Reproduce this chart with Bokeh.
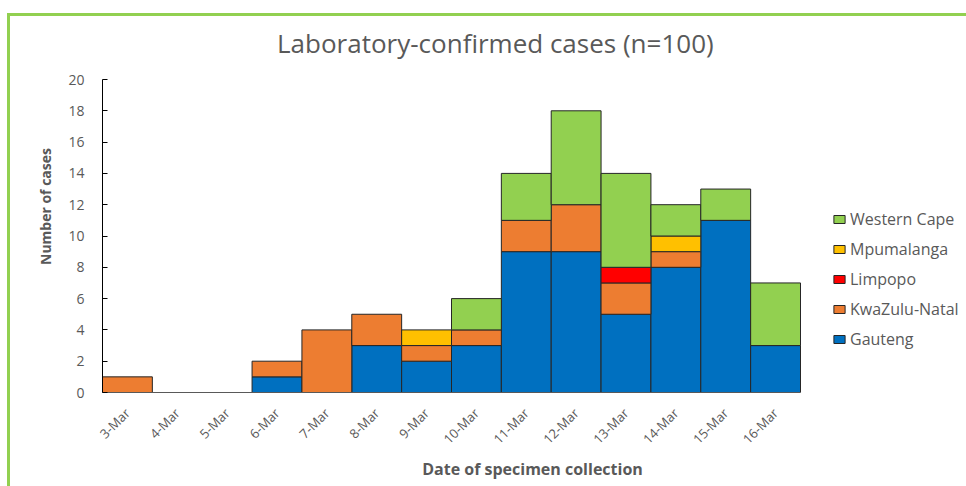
from math import pi
from bokeh.plotting import figure
from bokeh.models import Range1d, FixedTicker, Legend, LegendItem, Label
from bokeh.embed import file_html
from bokeh.resources import INLINE

dates = ["3-Mar", "4-Mar", "5-Mar", "6-Mar", "7-Mar", "8-Mar", "9-Mar",
         "10-Mar", "11-Mar", "12-Mar", "13-Mar", "14-Mar", "15-Mar", "16-Mar"]
gauteng = [0, 0, 0, 1, 0, 3, 2, 3, 9, 9, 5, 8, 11, 3]
kwazulu_natal = [1, 0, 0, 1, 4, 2, 1, 1, 2, 3, 2, 1, 0, 0]
limpopo = [0, 0, 0, 0, 0, 0, 0, 0, 0, 0, 1, 0, 0, 0]
mpumalanga = [0, 0, 0, 0, 0, 0, 1, 0, 0, 0, 0, 1, 0, 0]
western_cape = [0, 0, 0, 0, 0, 0, 0, 2, 3, 6, 6, 2, 2, 4]

provinces = ["Gauteng", "KwaZulu-Natal", "Limpopo", "Mpumalanga", "Western Cape"]
colors = ["#0070C0", "#ED7D31", "#FF0000", "#FFC000", "#92D050"]
y_ticks = [0, 2, 4, 6, 8, 10, 12, 14, 16, 18, 20]
y_max = 20

series = [gauteng, kwazulu_natal, limpopo, mpumalanga, western_cape]
positions = list(range(len(dates)))
data = {"pos": positions}
OUTLINE = "#262626"
NO_LINE = "rgba(0,0,0,0)"
for name, vals in zip(provinces, series):
    data[name] = vals
    data["lc_" + name] = [OUTLINE if v > 0 else NO_LINE for v in vals]

FONT = "Open Sans"
GRAY = "#595959"
GREEN = "#92D050"

W, H = 966, 486
ML, MR, MT, MB = 102, 4, 20, 94
px_per_cat = 698 / len(dates)
px_per_unit = 313 / y_max
x_lo = -0.5
x_hi = x_lo + (W - ML - MR) / px_per_cat
y_hi = (H - MT - MB) / px_per_unit

p = figure(x_range=Range1d(x_lo, x_hi), y_range=Range1d(0, y_hi),
           width=W, height=H, output_backend="svg", toolbar_location=None,
           min_border_left=ML, min_border_right=MR, min_border_top=MT, min_border_bottom=MB)
p.border_fill_color = None
p.background_fill_color = None
p.styles = {"background": f"linear-gradient({GREEN}, {GREEN}) 7px 13px / 100% 3px no-repeat, "
                          f"linear-gradient({GREEN}, {GREEN}) 7px 13px / 3px 100% no-repeat"}

renderers = p.vbar_stack(provinces, x="pos", width=1.0, source=data, fill_color=colors,
                         line_color=["lc_" + n for n in provinces], line_width=1)

p.xgrid.visible = False
p.ygrid.visible = False
p.outline_line_color = None

title = Label(x=7.38, y=22.36, text="Laboratory-confirmed cases (n=100)",
              text_align="center", text_baseline="middle", text_font=FONT,
              text_font_size="26px", text_color=GRAY)
p.add_layout(title)

p.yaxis.bounds = (0, y_max)
p.yaxis.ticker = FixedTicker(ticks=y_ticks)
p.yaxis.axis_line_color = "black"
p.yaxis.major_tick_line_color = "black"
p.yaxis.major_tick_in = 5
p.yaxis.major_tick_out = 0
p.yaxis.minor_tick_line_color = None
p.yaxis.major_label_standoff = 18
p.yaxis.major_label_text_font = FONT
p.yaxis.major_label_text_font_size = "14px"
p.yaxis.major_label_text_color = GRAY
p.yaxis.axis_label = "Number of cases"
p.yaxis.axis_label_text_font = FONT
p.yaxis.axis_label_text_font_style = "bold"
p.yaxis.axis_label_text_font_size = "14px"
p.yaxis.axis_label_text_color = GRAY
p.yaxis.axis_label_standoff = 10

p.xaxis.bounds = (x_lo, len(dates) - 0.5)
p.xaxis.ticker = FixedTicker(ticks=positions)
p.xaxis.major_label_overrides = {i: d for i, d in zip(positions, dates)}
p.xaxis.axis_line_color = GRAY
p.xaxis.major_tick_line_color = None
p.xaxis.minor_tick_line_color = None
p.xaxis.major_label_orientation = pi / 4
p.xaxis.major_label_text_font = FONT
p.xaxis.major_label_text_font_size = "13px"
p.xaxis.major_label_text_color = GRAY
p.xaxis.major_label_standoff = 12
p.xaxis.axis_label = "Date of specimen collection"
p.xaxis.axis_label_text_font = FONT
p.xaxis.axis_label_text_font_style = "bold"
p.xaxis.axis_label_text_font_size = "16px"
p.xaxis.axis_label_text_color = GRAY
p.xaxis.axis_label_standoff = 1

items = []
for i in range(len(provinces) - 1, -1, -1):
    first_nonzero = next(j for j, v in enumerate(series[i]) if v > 0)
    items.append(LegendItem(label=provinces[i], renderers=[renderers[i]], index=first_nonzero))
legend = Legend(items=items, location=(730, 42), orientation="vertical",
                glyph_width=14, glyph_height=10, label_height=20, spacing=8,
                label_standoff=4, padding=0, margin=0, border_line_color=None,
                background_fill_alpha=0, label_text_font=FONT,
                label_text_font_size="16px", label_text_color=GRAY)
p.add_layout(legend, "center")

open("out.html", "w").write(file_html(p, INLINE))
